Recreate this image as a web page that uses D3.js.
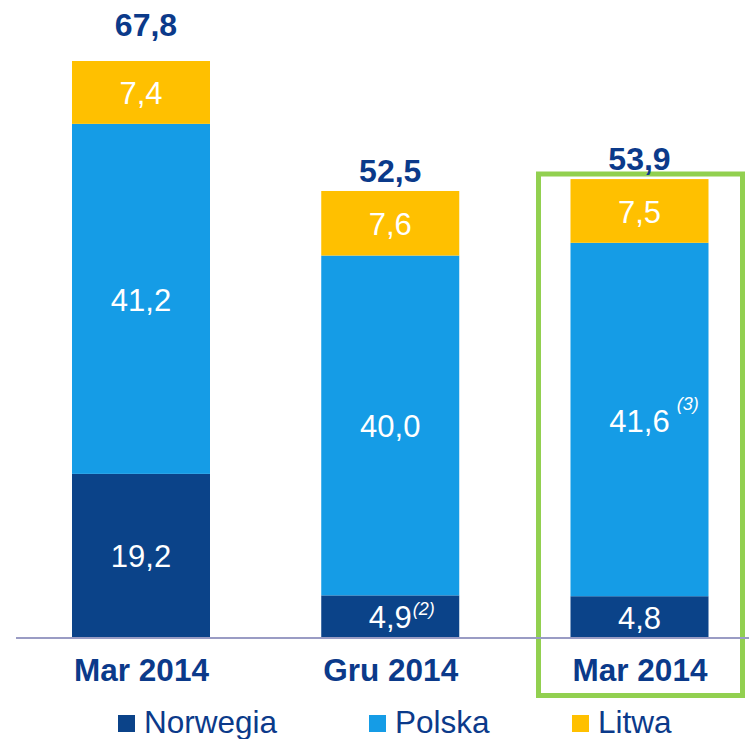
<!DOCTYPE html>
<html><head><meta charset="utf-8">
<script src="https://cdn.jsdelivr.net/npm/d3@7"></script>
<style>html,body{margin:0;padding:0;background:#fff;overflow:hidden}</style>
</head><body>
<svg id="c" width="749" height="739"></svg>
<script>
const categories = ["Mar 2014", "Gru 2014", "Mar 2014 "];
const seriesNames = ["Norwegia", "Polska", "Litwa"];
const norwegia = [19.2, 4.9, 4.8];
const polska = [41.2, 40.0, 41.6];
const litwa = [7.4, 7.6, 7.5];
const totals = [67.8, 52.5, 53.9];
const notes = [["", "", ""], ["(2)", "", ""], ["", "(3)", ""]]; // per category: [norwegia, polska, litwa]
const colors = ["#0b4389", "#159ce6", "#ffc000"];

const FONT = "'Liberation Sans', Arial, sans-serif";
const svg = d3.select("#c");
const fmt = v => d3.format(".1f")(v).replace(".", ",");
const baseY = 637;
const x0 = d3.scalePoint().domain(categories).range([141, 639.5]);
const bw = 138;
const y = d3.scaleLinear().domain([0, 67.8]).range([baseY, 61]);
const totalGap = [25, 9, 9];
const totalDx = [5, 0, 0];

const data = categories.map((c, i) => ({c, vals: [norwegia[i], polska[i], litwa[i]], total: totals[i], notes: notes[i]}));

// green highlight box
svg.append("rect").attr("x", 538.5).attr("y", 174).attr("width", 204).attr("height", 521.5)
  .attr("fill", "none").attr("stroke", "#92d050").attr("stroke-width", 5);

data.forEach((d, i) => {
  let cum = 0;
  const g = svg.append("g");
  d.vals.forEach((v, k) => {
    const y1 = y(cum), y2 = y(cum + v);
    g.append("rect").attr("x", x0(d.c) - bw / 2).attr("y", y2).attr("width", bw).attr("height", y1 - y2)
      .attr("fill", colors[k]);
    const ty = (y1 + y2) / 2 + 12;
    const t = g.append("text").attr("x", x0(d.c)).attr("y", ty)
      .attr("text-anchor", "middle").attr("fill", "#fff")
      .attr("font-family", FONT).attr("font-size", 31)
      .text(fmt(v));
    if (d.notes[k]) {
      const tw = t.node().getComputedTextLength();
      const gap = k === 1 ? 7 : 1;
      const dy = k === 1 ? -22 : -13;
      g.append("text").attr("x", x0(d.c) + tw / 2 + gap).attr("y", ty + dy)
        .attr("fill", "#fff").attr("font-style", "italic")
        .attr("font-family", FONT).attr("font-size", 18)
        .text(d.notes[k]);
    }
    cum += v;
  });
  svg.append("text").attr("x", x0(d.c) + totalDx[i]).attr("y", y(d.total) - totalGap[i]).attr("text-anchor", "middle")
    .attr("fill", "#0b3a8a").attr("font-weight", "bold")
    .attr("font-family", FONT).attr("font-size", 32)
    .text(fmt(d.total));
});

// category axis
const xAxis = d3.axisBottom(x0).tickSize(0).tickPadding(0);
const ax = svg.append("g").attr("transform", `translate(0,${baseY})`).call(xAxis);
ax.select(".domain").remove();
ax.selectAll(".tick text").attr("font-family", FONT)
  .attr("font-size", 31.5).attr("font-weight", "bold").attr("fill", "#0b3a8a")
  .attr("dy", 0).attr("y", 44).text(d => d.trim());
svg.append("line").attr("x1", 16).attr("x2", 749).attr("y1", baseY + 1).attr("y2", baseY + 1)
  .attr("stroke", "#9a9cc4").attr("stroke-width", 2);

// legend
const legX = [118, 369, 572];
seriesNames.forEach((n, k) => {
  svg.append("rect").attr("x", legX[k]).attr("y", 715).attr("width", 17).attr("height", 17).attr("fill", colors[k]);
  svg.append("text").attr("x", legX[k] + 26).attr("y", 733)
    .attr("font-family", FONT).attr("font-size", 31.5)
    .attr("fill", "#0b3a8a").text(n);
});
</script>
</body></html>
